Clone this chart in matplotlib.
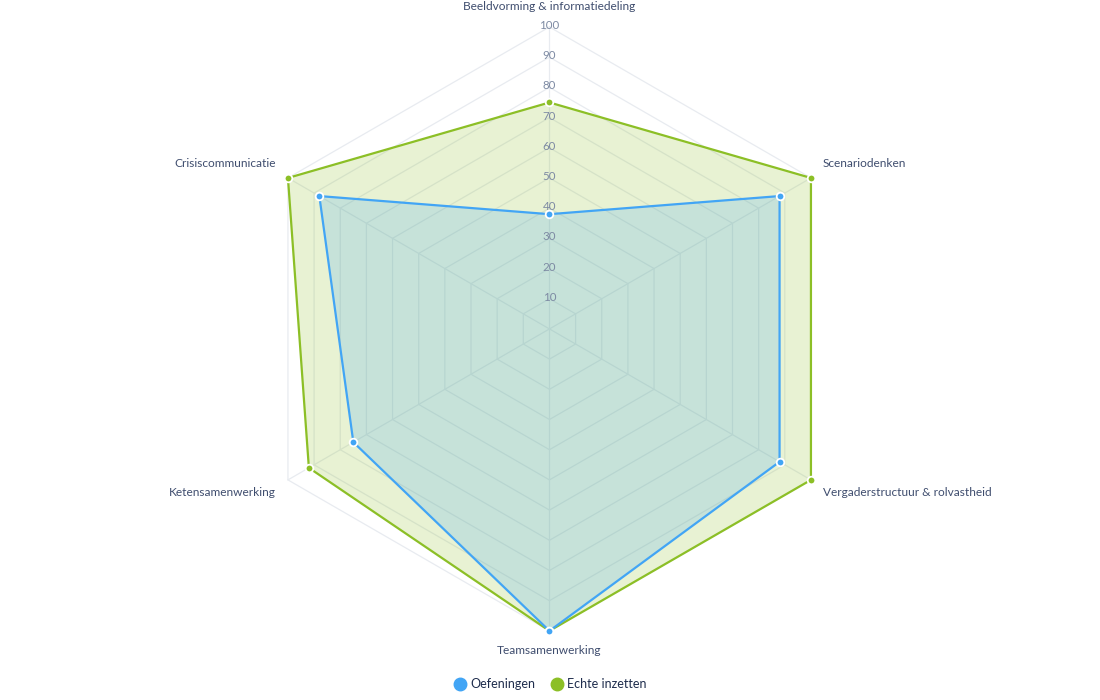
import numpy as np
import matplotlib
matplotlib.use('Agg')
import matplotlib.pyplot as plt

plt.rcParams['font.family'] = ['Lato', 'DejaVu Sans']

# data
categories = ['Beeldvorming & informatiedeling', 'Scenariodenken', 'Vergaderstructuur & rolvastheid',
              'Teamsamenwerking', 'Ketensamenwerking', 'Crisiscommunicatie']
oefeningen = [38, 88, 88, 100, 75, 88]
echte_inzetten = [75, 100, 100, 100, 92, 100]
ticks = [10, 20, 30, 40, 50, 60, 70, 80, 90, 100]

blue = '#42a5f5'
green = '#8cbf26'
grid_col = '#e8ebf0'

n = len(categories)
theta = np.linspace(0, 2 * np.pi, n, endpoint=False)
theta_c = np.append(theta, theta[0])

fig = plt.figure(figsize=(11, 7), dpi=100)
ax = fig.add_axes([0.225, 0.0986, 0.549, 0.863], polar=True)
ax.set_theta_zero_location('N')
ax.set_theta_direction(-1)
ax.set_ylim(0, 100)
ax.grid(False)
ax.set_frame_on(False)
ax.set_xticks([])
ax.set_yticks([])

# hexagon grid
for t in ticks:
    ax.plot(theta_c, [t] * (n + 1), color=grid_col, lw=0.9, zorder=1, clip_on=False)
for th in theta:
    ax.plot([th, th], [0, 100], color=grid_col, lw=0.9, zorder=1, clip_on=False)

# series
for vals, col in [(echte_inzetten, green), (oefeningen, blue)]:
    v = np.append(vals, vals[0])
    ax.fill(theta_c, v, color=col, alpha=0.2, lw=0, zorder=2, clip_on=False)
    ax.plot(theta_c, v, color=col, lw=1.6, zorder=3, clip_on=False)
    ax.plot(theta, vals, 'o', color=col, ms=5.5, mec='white', mew=1.3, zorder=4, clip_on=False)

# tick labels on top spoke
for t in ticks:
    ax.annotate(str(t), xy=(0, t), xytext=(0, 1.5), textcoords='offset pixels',
                ha='center', va='center', fontsize=8.3, color='#7d8aa3', zorder=5)

# category labels
offsets = [(0, 20, 'center'), (12, 14, 'left'), (12, -13, 'left'),
           (0, -20, 'center'), (-12, -13, 'right'), (-12, 14, 'right')]
for th, lab, (dx, dy, ha) in zip(theta, categories, offsets):
    ax.annotate(lab, xy=(th, 100), xytext=(dx, dy), textcoords='offset pixels',
                ha=ha, va='center', fontsize=8.6, color='#3f4d6e', annotation_clip=False)

# legend
h1, = ax.plot([], [], 'o', color=blue, ms=9, label='Oefeningen')
h2, = ax.plot([], [], 'o', color=green, ms=9, label='Echte inzetten')
fig.legend(handles=[h1, h2], loc='center', bbox_to_anchor=(0.4995, 1 - 684 / 700), ncol=2,
           frameon=False, fontsize=9, handletextpad=0.2, columnspacing=1.1,
           labelcolor='#1f2d4d', handlelength=1.2)

fig.savefig('out.png', dpi=100)
